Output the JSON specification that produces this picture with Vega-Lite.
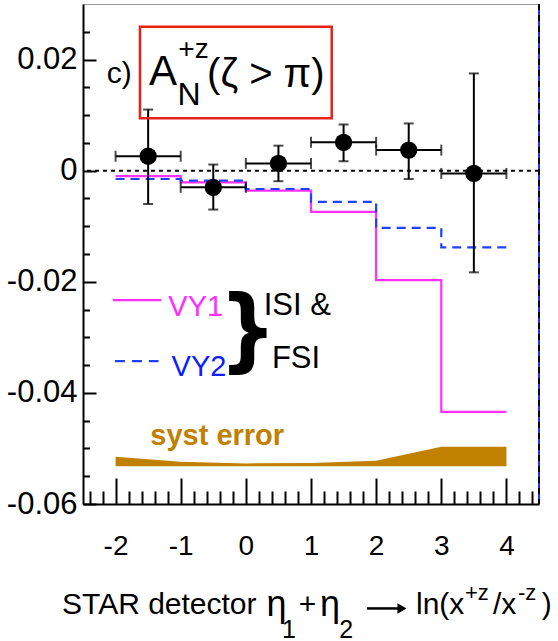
{
  "$schema": "https://vega.github.io/schema/vega-lite/v6.json",
  "width": 456,
  "height": 500,
  "autosize": "none",
  "padding": {"left": 83, "top": 4, "right": 19, "bottom": 137},
  "background": "white",
  "config": {
    "view": {"stroke": "#999999", "strokeWidth": 1},
    "font": "Liberation Sans"
  },
  "resolve": {"axis": {"x": "independent", "y": "independent"}},
  "datasets": {
    "points": [
      {"bin_lo": -2, "bin_hi": -1, "x": -1.5, "asym": 0.0026, "lo": -0.006, "hi": 0.011},
      {"bin_lo": -1, "bin_hi": 0, "x": -0.5, "asym": -0.003, "lo": -0.007, "hi": 0.0011},
      {"bin_lo": 0, "bin_hi": 1, "x": 0.5, "asym": 0.0013, "lo": -0.0019, "hi": 0.0045},
      {"bin_lo": 1, "bin_hi": 2, "x": 1.5, "asym": 0.0051, "lo": 0.0017, "hi": 0.0083},
      {"bin_lo": 2, "bin_hi": 3, "x": 2.5, "asym": 0.0037, "lo": -0.0015, "hi": 0.0085},
      {"bin_lo": 3, "bin_hi": 4, "x": 3.5, "asym": -0.0005, "lo": -0.0183, "hi": 0.0175}
    ],
    "curves": [
      {"model": "VY1", "x": -2, "a": -0.001},
      {"model": "VY1", "x": -1, "a": -0.0021},
      {"model": "VY1", "x": 0, "a": -0.0036},
      {"model": "VY1", "x": 1, "a": -0.0074},
      {"model": "VY1", "x": 2, "a": -0.0197},
      {"model": "VY1", "x": 3, "a": -0.0434},
      {"model": "VY1", "x": 4, "a": -0.0434},
      {"model": "VY2", "x": -2, "a": -0.0015},
      {"model": "VY2", "x": -1, "a": -0.0018},
      {"model": "VY2", "x": 0, "a": -0.0033},
      {"model": "VY2", "x": 1, "a": -0.0056},
      {"model": "VY2", "x": 2, "a": -0.0103},
      {"model": "VY2", "x": 3, "a": -0.0138},
      {"model": "VY2", "x": 4, "a": -0.0138}
    ],
    "syst": [
      {"x": -2, "top": -0.0515, "bottom": -0.0532},
      {"x": -1, "top": -0.0524, "bottom": -0.0532},
      {"x": 0, "top": -0.0527, "bottom": -0.0532},
      {"x": 1, "top": -0.0526, "bottom": -0.0532},
      {"x": 2, "top": -0.0522, "bottom": -0.0532},
      {"x": 3, "top": -0.0497, "bottom": -0.0532},
      {"x": 4, "top": -0.0497, "bottom": -0.0532}
    ]
  },
  "layer": [
    {
      "data": {"name": "syst"},
      "mark": {"type": "area", "color": "#C08000", "opacity": 1},
      "encoding": {
        "x": {
          "field": "x", "type": "quantitative",
          "scale": {"domain": [-2.5, 4.5], "nice": false, "zero": false},
          "axis": {
            "orient": "bottom",
            "values": [-2, -1, 0, 1, 2, 3, 4],
            "tickSize": -26,
            "tickWidth": 2,
            "tickColor": "black",
            "domainColor": "black",
            "domainWidth": 2,
            "grid": false,
            "labelExpr": "datum.value < 0 ? '-' + format(abs(datum.value), 'd') : format(datum.value, 'd')",
            "labelFont": "Liberation Sans",
            "labelFontSize": 28,
            "labelColor": "black",
            "labelPadding": 54,
            "labelFlush": false,
            "labelOverlap": false,
            "title": null
          }
        },
        "y": {
          "field": "top", "type": "quantitative",
          "scale": {"domain": [-0.06, 0.03], "nice": false, "zero": false},
          "axis": {
            "orient": "left",
            "values": [-0.06, -0.04, -0.02, 0, 0.02],
            "tickSize": -13,
            "tickWidth": 2,
            "tickColor": "black",
            "domainColor": "black",
            "domainWidth": 2,
            "grid": false,
            "labelExpr": "datum.value < -0.0001 ? '-' + format(abs(datum.value), '.2f') : (datum.value > 0.0001 ? format(datum.value, '.2f') : '0')",
            "labelFont": "Liberation Sans",
            "labelFontSize": 31,
            "labelColor": "black",
            "labelPadding": 19,
            "labelFlush": false,
            "labelOverlap": false,
            "title": null
          }
        },
        "y2": {"field": "bottom"}
      }
    },
    {
      "data": {"name": "curves"},
      "mark": {"type": "line", "interpolate": "step-after", "strokeWidth": 2.2},
      "encoding": {
        "x": {
          "field": "x", "type": "quantitative",
          "axis": {
            "orient": "bottom",
            "values": [-2.4, -2.2, -1.8, -1.6, -1.4, -1.2, -0.8, -0.6, -0.4, -0.2, 0.2, 0.4, 0.6, 0.8, 1.2, 1.4, 1.6, 1.8, 2.2, 2.4, 2.6, 2.8, 3.2, 3.4, 3.6, 3.8, 4.2, 4.4],
            "tickSize": -13,
            "tickWidth": 2,
            "tickColor": "black",
            "domain": false,
            "grid": false,
            "labels": false,
            "title": null
          }
        },
        "y": {
          "field": "a", "type": "quantitative",
          "axis": {
            "orient": "left",
            "values": [-0.055, -0.05, -0.045, -0.035, -0.03, -0.025, -0.015, -0.01, -0.005, 0.005, 0.01, 0.015, 0.025],
            "tickSize": -6.5,
            "tickWidth": 2,
            "tickColor": "black",
            "domain": false,
            "grid": false,
            "labels": false,
            "title": null
          }
        },
        "color": {"field": "model", "type": "nominal", "scale": {"domain": ["VY1", "VY2"], "range": ["#FF30FF", "#1E40FF"]}, "legend": null},
        "strokeDash": {"field": "model", "type": "nominal", "scale": {"domain": ["VY1", "VY2"], "range": [[1, 0], [9, 6]]}, "legend": null}
      }
    },
    {
      "data": {"values": [{}]},
      "mark": {"type": "rule", "color": "black", "strokeWidth": 2, "strokeDash": [4, 4]},
      "encoding": {"y": {"datum": 0, "type": "quantitative", "axis": null}}
    },
    {
      "data": {"values": [{}]},
      "mark": {"type": "rule", "color": "#2030FF", "strokeWidth": 2},
      "encoding": {"x": {"datum": 4.5, "type": "quantitative", "axis": null}}
    },
    {
      "data": {"values": [{}]},
      "mark": {"type": "rule", "color": "black", "strokeWidth": 2, "strokeDash": [6, 5]},
      "encoding": {"x": {"datum": 4.5, "type": "quantitative", "axis": null}}
    },
    {
      "data": {"name": "points"},
      "mark": {"type": "rule", "color": "black", "strokeWidth": 2},
      "encoding": {
        "x": {"field": "bin_lo", "type": "quantitative", "axis": null},
        "x2": {"field": "bin_hi"},
        "y": {"field": "asym", "type": "quantitative", "axis": null}
      }
    },
    {
      "data": {"name": "points"},
      "mark": {"type": "rule", "color": "black", "strokeWidth": 2},
      "encoding": {
        "x": {"field": "x", "type": "quantitative", "axis": null},
        "y": {"field": "lo", "type": "quantitative", "axis": null},
        "y2": {"field": "hi"}
      }
    },
    {
      "data": {"name": "points"},
      "mark": {"type": "tick", "color": "black", "orient": "vertical", "size": 11, "thickness": 2},
      "encoding": {
        "x": {"field": "bin_lo", "type": "quantitative", "axis": null},
        "y": {"field": "asym", "type": "quantitative", "axis": null}
      }
    },
    {
      "data": {"name": "points"},
      "mark": {"type": "tick", "color": "black", "orient": "vertical", "size": 11, "thickness": 2},
      "encoding": {
        "x": {"field": "bin_hi", "type": "quantitative", "axis": null},
        "y": {"field": "asym", "type": "quantitative", "axis": null}
      }
    },
    {
      "data": {"name": "points"},
      "mark": {"type": "tick", "color": "black", "orient": "horizontal", "size": 10, "thickness": 2},
      "encoding": {
        "x": {"field": "x", "type": "quantitative", "axis": null},
        "y": {"field": "lo", "type": "quantitative", "axis": null}
      }
    },
    {
      "data": {"name": "points"},
      "mark": {"type": "tick", "color": "black", "orient": "horizontal", "size": 10, "thickness": 2},
      "encoding": {
        "x": {"field": "x", "type": "quantitative", "axis": null},
        "y": {"field": "hi", "type": "quantitative", "axis": null}
      }
    },
    {
      "data": {"name": "points"},
      "mark": {"type": "circle", "color": "black", "opacity": 1, "size": 300},
      "encoding": {
        "x": {"field": "x", "type": "quantitative", "axis": null},
        "y": {"field": "asym", "type": "quantitative", "axis": null}
      }
    },
    {
      "data": {"values": [{}]},
      "mark": {"type": "rect", "filled": false, "stroke": "#E8201A", "strokeWidth": 2.5},
      "encoding": {
        "x": {"datum": -1.625, "type": "quantitative", "axis": null},
        "x2": {"datum": 1.318},
        "y": {"datum": 0.00943, "type": "quantitative", "axis": null},
        "y2": {"datum": 0.0259}
      }
    },
    {
      "data": {"values": [{}]},
      "mark": {"type": "text", "text": "c)", "fontSize": 30, "align": "center", "baseline": "alphabetic", "color": "black"},
      "encoding": {"x": {"datum": -1.943, "type": "quantitative", "axis": null}, "y": {"datum": 0.0158, "type": "quantitative", "axis": null}}
    },
    {
      "data": {"values": [{}]},
      "mark": {"type": "text", "text": "A", "fontSize": 42, "align": "center", "baseline": "alphabetic", "color": "black"},
      "encoding": {"x": {"datum": -1.272, "type": "quantitative", "axis": null}, "y": {"datum": 0.0154, "type": "quantitative", "axis": null}}
    },
    {
      "data": {"values": [{}]},
      "mark": {"type": "text", "text": "N", "fontSize": 32, "align": "center", "baseline": "alphabetic", "color": "black"},
      "encoding": {"x": {"datum": -0.873, "type": "quantitative", "axis": null}, "y": {"datum": 0.0118, "type": "quantitative", "axis": null}}
    },
    {
      "data": {"values": [{}]},
      "mark": {"type": "text", "text": "+z", "fontSize": 28, "align": "left", "baseline": "alphabetic", "color": "black"},
      "encoding": {"x": {"datum": -1.037, "type": "quantitative", "axis": null}, "y": {"datum": 0.0202, "type": "quantitative", "axis": null}}
    },
    {
      "data": {"values": [{}]},
      "mark": {"type": "text", "text": "(ζ > π)", "fontSize": 40, "align": "center", "baseline": "alphabetic", "color": "black"},
      "encoding": {"x": {"datum": 0.306, "type": "quantitative", "axis": null}, "y": {"datum": 0.0151, "type": "quantitative", "axis": null}}
    },
    {
      "data": {"values": [{}]},
      "mark": {"type": "rule", "color": "#FF30FF", "strokeWidth": 2.2},
      "encoding": {"x": {"datum": -2.04, "type": "quantitative", "axis": null}, "x2": {"datum": -1.3}, "y": {"datum": -0.0233, "type": "quantitative", "axis": null}}
    },
    {
      "data": {"values": [{}]},
      "mark": {"type": "rule", "color": "#1E40FF", "strokeWidth": 2.2, "strokeDash": [10, 7]},
      "encoding": {"x": {"datum": -2.01, "type": "quantitative", "axis": null}, "x2": {"datum": -1.34}, "y": {"datum": -0.0343, "type": "quantitative", "axis": null}}
    },
    {
      "data": {"values": [{}]},
      "mark": {"type": "text", "text": "VY1", "fontSize": 29, "align": "center", "baseline": "alphabetic", "color": "#FF30FF"},
      "encoding": {"x": {"datum": -0.77, "type": "quantitative", "axis": null}, "y": {"datum": -0.0262, "type": "quantitative", "axis": null}}
    },
    {
      "data": {"values": [{}]},
      "mark": {"type": "text", "text": "VY2", "fontSize": 29, "align": "center", "baseline": "alphabetic", "color": "#0A1EFF"},
      "encoding": {"x": {"datum": -0.72, "type": "quantitative", "axis": null}, "y": {"datum": -0.037, "type": "quantitative", "axis": null}}
    },
    {
      "data": {"values": [{}]},
      "mark": {"type": "text", "text": "}", "font": "DejaVu Sans Condensed", "fontWeight": "bold", "fontSize": 90, "align": "center", "baseline": "middle", "color": "black"},
      "encoding": {"x": {"datum": 0.03, "type": "quantitative", "axis": null}, "y": {"datum": -0.0293, "type": "quantitative", "axis": null}}
    },
    {
      "data": {"values": [{}]},
      "mark": {"type": "text", "text": "ISI &", "fontSize": 31, "align": "center", "baseline": "middle", "color": "black"},
      "encoding": {"x": {"datum": 0.79, "type": "quantitative", "axis": null}, "y": {"datum": -0.0244, "type": "quantitative", "axis": null}}
    },
    {
      "data": {"values": [{}]},
      "mark": {"type": "text", "text": "FSI", "fontSize": 31, "align": "center", "baseline": "middle", "color": "black"},
      "encoding": {"x": {"datum": 0.77, "type": "quantitative", "axis": null}, "y": {"datum": -0.0339, "type": "quantitative", "axis": null}}
    },
    {
      "data": {"values": [{}]},
      "mark": {"type": "text", "text": "syst error", "fontWeight": "bold", "fontSize": 29, "align": "center", "baseline": "alphabetic", "color": "#C08000"},
      "encoding": {"x": {"datum": -0.44, "type": "quantitative", "axis": null}, "y": {"datum": -0.0494, "type": "quantitative", "axis": null}}
    },
    {
      "data": {"values": [{}]},
      "mark": {"type": "text", "text": "STAR detector", "fontSize": 30, "align": "left", "baseline": "alphabetic", "color": "black"},
      "encoding": {"x": {"datum": -2.822, "type": "quantitative", "axis": null}, "y": {"datum": -0.0798, "type": "quantitative", "axis": null}}
    },
    {
      "data": {"values": [{}]},
      "mark": {"type": "text", "text": "η", "fontSize": 36, "align": "center", "baseline": "alphabetic", "color": "black"},
      "encoding": {"x": {"datum": 0.47, "type": "quantitative", "axis": null}, "y": {"datum": -0.0802, "type": "quantitative", "axis": null}}
    },
    {
      "data": {"values": [{}]},
      "mark": {"type": "text", "text": "1", "fontSize": 25, "align": "center", "baseline": "alphabetic", "color": "black"},
      "encoding": {"x": {"datum": 0.66, "type": "quantitative", "axis": null}, "y": {"datum": -0.0841, "type": "quantitative", "axis": null}}
    },
    {
      "data": {"values": [{}]},
      "mark": {"type": "text", "text": "+", "fontSize": 30, "align": "center", "baseline": "alphabetic", "color": "black"},
      "encoding": {"x": {"datum": 0.946, "type": "quantitative", "axis": null}, "y": {"datum": -0.0798, "type": "quantitative", "axis": null}}
    },
    {
      "data": {"values": [{}]},
      "mark": {"type": "text", "text": "η", "fontSize": 36, "align": "center", "baseline": "alphabetic", "color": "black"},
      "encoding": {"x": {"datum": 1.29, "type": "quantitative", "axis": null}, "y": {"datum": -0.0802, "type": "quantitative", "axis": null}}
    },
    {
      "data": {"values": [{}]},
      "mark": {"type": "text", "text": "2", "fontSize": 25, "align": "center", "baseline": "alphabetic", "color": "black"},
      "encoding": {"x": {"datum": 1.54, "type": "quantitative", "axis": null}, "y": {"datum": -0.0841, "type": "quantitative", "axis": null}}
    },
    {
      "data": {"values": [{}]},
      "mark": {"type": "rule", "color": "black", "strokeWidth": 2.5},
      "encoding": {"x": {"datum": 1.86, "type": "quantitative", "axis": null}, "x2": {"datum": 2.34}, "y": {"datum": -0.0788, "type": "quantitative", "axis": null}}
    },
    {
      "data": {"values": [{}]},
      "mark": {"type": "point", "shape": "triangle-right", "filled": true, "color": "black", "opacity": 1, "size": 110},
      "encoding": {"x": {"datum": 2.397, "type": "quantitative", "axis": null}, "y": {"datum": -0.0788, "type": "quantitative", "axis": null}}
    },
    {
      "data": {"values": [{}]},
      "mark": {"type": "text", "text": "ln(x", "fontSize": 30, "align": "left", "baseline": "alphabetic", "color": "black"},
      "encoding": {"x": {"datum": 2.612, "type": "quantitative", "axis": null}, "y": {"datum": -0.0798, "type": "quantitative", "axis": null}}
    },
    {
      "data": {"values": [{}]},
      "mark": {"type": "text", "text": "+z", "fontSize": 22, "align": "left", "baseline": "alphabetic", "color": "black"},
      "encoding": {"x": {"datum": 3.364, "type": "quantitative", "axis": null}, "y": {"datum": -0.0773, "type": "quantitative", "axis": null}}
    },
    {
      "data": {"values": [{}]},
      "mark": {"type": "text", "text": "/x", "fontSize": 30, "align": "left", "baseline": "alphabetic", "color": "black"},
      "encoding": {"x": {"datum": 3.794, "type": "quantitative", "axis": null}, "y": {"datum": -0.0798, "type": "quantitative", "axis": null}}
    },
    {
      "data": {"values": [{}]},
      "mark": {"type": "text", "text": "-z", "fontSize": 22, "align": "left", "baseline": "alphabetic", "color": "black"},
      "encoding": {"x": {"datum": 4.178, "type": "quantitative", "axis": null}, "y": {"datum": -0.0773, "type": "quantitative", "axis": null}}
    },
    {
      "data": {"values": [{}]},
      "mark": {"type": "text", "text": ")", "fontSize": 30, "align": "left", "baseline": "alphabetic", "color": "black"},
      "encoding": {"x": {"datum": 4.541, "type": "quantitative", "axis": null}, "y": {"datum": -0.0798, "type": "quantitative", "axis": null}}
    }
  ]
}
